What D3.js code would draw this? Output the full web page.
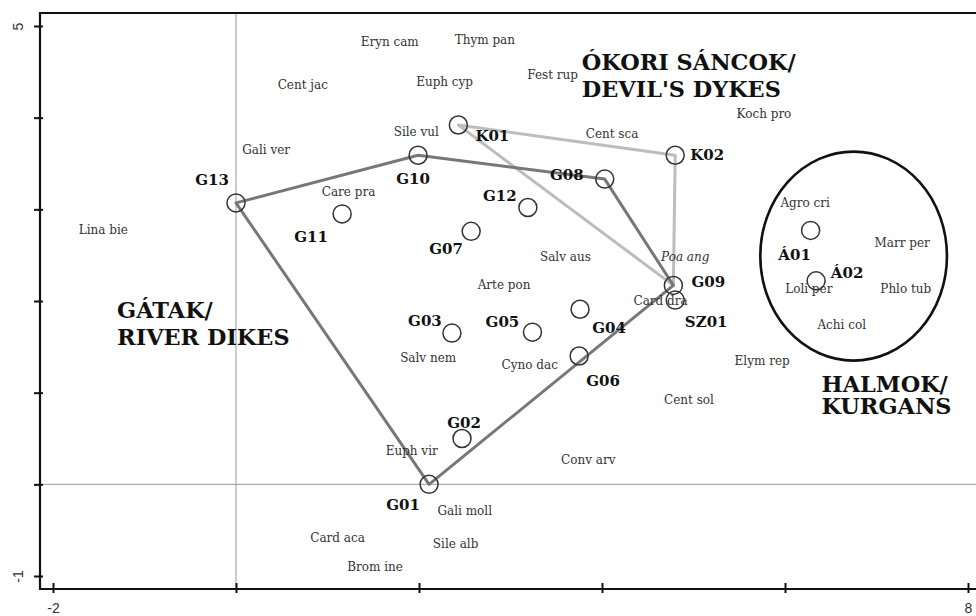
<!DOCTYPE html>
<html lang="hu">
<head>
  <meta charset="UTF-8">
  <title>Ordination – gátak, sáncok, halmok</title>
  <script src="https://d3js.org/d3.v7.min.js"></script>
  <style>
    body { margin: 0; background: #fff; }
    svg { display: block; }
    .species { font-family: "DejaVu Serif", serif; font-size: 12px; fill: #333; }
    .site { font-family: "DejaVu Serif", serif; font-weight: bold; font-size: 15px; fill: #111; }
    .group { font-family: "DejaVu Serif", serif; font-weight: bold; font-size: 22.4px; fill: #111; }
  </style>
</head>
<body>
<svg width="976" height="616"></svg>
<script>
  // sites (relevés)
  const siteNames = ["G01","G02","G03","G04","G05","G06","G07","G08","G09","G10","G11","G12","G13","K01","K02","SZ01","Á01","Á02"];
  const siteX = [2.11, 2.47, 2.36, 3.76, 3.24, 3.75, 2.57, 4.03, 4.78, 1.99, 1.16, 3.19, 0.00, 2.43, 4.80, 4.80, 6.28, 6.34];
  const siteY = [0.00, 0.50, 1.65, 1.91, 1.66, 1.40, 2.76, 3.33, 2.17, 3.59, 2.95, 3.02, 3.07, 3.92, 3.59, 2.01, 2.77, 2.22];

  // species scores
  const speciesNames = ["Eryn cam","Thym pan","Cent jac","Euph cyp","Fest rup","Koch pro","Sile vul","Cent sca","Gali ver","Care pra",
    "Lina bie","Agro cri","Poa ang","Salv aus","Marr per","Arte pon","Card dra","Loli per","Phlo tub","Achi col",
    "Salv nem","Cyno dac","Elym rep","Cent sol","Euph vir","Conv arv","Gali moll","Card aca","Sile alb","Brom ine"];
  const speciesX = [1.68, 2.72, 0.73, 2.28, 3.46, 5.77, 1.97, 4.11, 0.33, 1.23,
    -1.45, 6.22, 4.91, 3.60, 7.28, 2.93, 4.64, 6.26, 7.32, 6.62,
    2.10, 3.21, 5.75, 4.95, 1.92, 3.85, 2.50, 1.11, 2.40, 1.52];
  const speciesY = [4.83, 4.85, 4.36, 4.39, 4.47, 4.04, 3.84, 3.82, 3.65, 3.19,
    2.77, 3.07, 2.48, 2.48, 2.63, 2.17, 2.00, 2.13, 2.13, 1.74,
    1.38, 1.30, 1.35, 0.92, 0.36, 0.27, -0.29, -0.59, -0.65, -0.90];

  // group outlines
  const gatakHull = ["G13","G10","G08","G09","G01"];
  const sancokHull = ["K01","K02","G09"];
  const halmokEllipse = [6.75, 2.49, 1.02, 1.14]; // cx, cy, rx, ry

  const groupNames = [["ÓKORI SÁNCOK/","DEVIL'S DYKES"], ["GÁTAK/","RIVER DIKES"], ["HALMOK/","KURGANS"]];
  const groupX = [3.78, -1.30, 6.40];
  const groupY = [4.52, 1.82, 1.01];

  const xTicks = [-2, 0, 2, 4, 6, 8];
  const yTicks = [-1, 0, 1, 2, 3, 4, 5];
  const xTickLabels = ["-2", "", "", "", "", "8"];
  const yTickLabels = ["-1", "", "", "", "", "", "5"];

  // label offsets (px) for site names
  const siteLabelOffset = {
    G01: [-26, 21], G02: [2, -16], G03: [-27, -12], G04: [29, 19], G05: [-30, -10], G06: [24, 25],
    G07: [-25, 18], G08: [-38, -4], G09: [35, -3], G10: [-5, 24], G11: [-31, 23], G12: [-28, -12],
    G13: [-24, -23], K01: [34, 11], K02: [32, 0], SZ01: [31, 22], "Á01": [-16, 25], "Á02": [31, -8]
  };

  const svg = d3.select("svg");
  const x = d3.scaleLinear().domain([-2, 8]).range([53, 968]);
  const y = d3.scaleLinear().domain([-1, 5]).range([576, 26]);
  const pad = 13;
  const fLeft = x(-2) - pad, fRight = x(8) + pad, fTop = y(5) - pad, fBottom = y(-1) + pad;

  const sites = siteNames.map((n, i) => ({name: n, x: siteX[i], y: siteY[i]}));
  const siteBy = Object.fromEntries(sites.map(d => [d.name, d]));

  // zero lines
  svg.append("line").attr("x1", x(0)).attr("x2", x(0)).attr("y1", fTop).attr("y2", fBottom)
    .attr("stroke", "#999").attr("stroke-width", 1);
  svg.append("line").attr("x1", fLeft).attr("x2", fRight).attr("y1", y(0)).attr("y2", y(0))
    .attr("stroke", "#999").attr("stroke-width", 1);

  // hulls
  const line = d3.line().x(d => x(d.x)).y(d => y(d.y)).curve(d3.curveLinearClosed);
  svg.append("path").datum(sancokHull.map(n => siteBy[n]))
    .attr("d", line).attr("fill", "none").attr("stroke", "#bdbdbd").attr("stroke-width", 3)
    .attr("stroke-linejoin", "round");
  svg.append("path").datum(gatakHull.map(n => siteBy[n]))
    .attr("d", line).attr("fill", "none").attr("stroke", "#777").attr("stroke-width", 3)
    .attr("stroke-linejoin", "round");

  // kurgan ellipse
  svg.append("ellipse")
    .attr("cx", x(halmokEllipse[0])).attr("cy", y(halmokEllipse[1]))
    .attr("rx", x(halmokEllipse[2]) - x(0)).attr("ry", y(0) - y(halmokEllipse[3]))
    .attr("fill", "none").attr("stroke", "#111").attr("stroke-width", 2.6);

  // species labels
  svg.selectAll(".species").data(speciesNames).enter().append("text")
    .attr("class", "species")
    .attr("x", (d, i) => x(speciesX[i]))
    .attr("y", (d, i) => y(speciesY[i]))
    .attr("text-anchor", "middle")
    .attr("dominant-baseline", "central")
    .style("font-style", d => d === "Poa ang" ? "italic" : null)
    .text(d => d);

  // site circles
  svg.selectAll(".pt").data(sites).enter().append("circle")
    .attr("class", "pt")
    .attr("cx", d => x(d.x)).attr("cy", d => y(d.y)).attr("r", 9)
    .attr("fill", "none").attr("stroke", "#333").attr("stroke-width", 1.5);

  svg.selectAll(".site").data(sites).enter().append("text")
    .attr("class", "site")
    .attr("x", d => x(d.x) + siteLabelOffset[d.name][0])
    .attr("y", d => y(d.y) + siteLabelOffset[d.name][1])
    .attr("text-anchor", "middle")
    .attr("dominant-baseline", "central")
    .text(d => d.name);

  // group titles
  groupNames.forEach((lines, i) => {
    const t = svg.append("text").attr("class", "group")
      .attr("x", x(groupX[i])).attr("y", y(groupY[i]));
    lines.forEach((s, j) => {
      t.append("tspan").attr("x", x(groupX[i])).attr("dy", j ? (i === 2 ? 22 : 27) : 0).text(s);
    });
  });

  // axes
  const xAxis = svg.append("g").attr("transform", `translate(0,${fBottom})`)
    .call(d3.axisBottom(x).tickValues(xTicks).tickSize(4).tickFormat((d, i) => xTickLabels[i]));
  xAxis.select(".domain").remove();
  xAxis.selectAll(".tick line").attr("y1", -6).attr("stroke", "#111").attr("stroke-width", 2);
  xAxis.selectAll(".tick text").attr("y", 14).attr("dy", "0.71em")
    .style("font-family", "'Liberation Sans', Arial, sans-serif").style("font-size", "14px").style("fill", "#333");

  const yAxis = svg.append("g").attr("transform", `translate(${fLeft},0)`)
    .call(d3.axisLeft(y).tickValues(yTicks).tickSize(6).tickFormat((d, i) => yTickLabels[i]));
  yAxis.select(".domain").remove();
  yAxis.selectAll(".tick line").attr("x1", 3).attr("stroke", "#111").attr("stroke-width", 2);
  yAxis.selectAll(".tick text").attr("x", null).attr("dy", null)
    .attr("text-anchor", "middle").attr("transform", "translate(-17,0) rotate(-90)")
    .style("font-family", "'Liberation Sans', Arial, sans-serif").style("font-size", "14px").style("fill", "#333");

  // frame
  svg.append("path")
    .attr("d", `M${fRight},${fTop}H${fLeft}V${fBottom}H${fRight}`)
    .attr("fill", "none").attr("stroke", "#111").attr("stroke-width", 2.2);
</script>
</body>
</html>
